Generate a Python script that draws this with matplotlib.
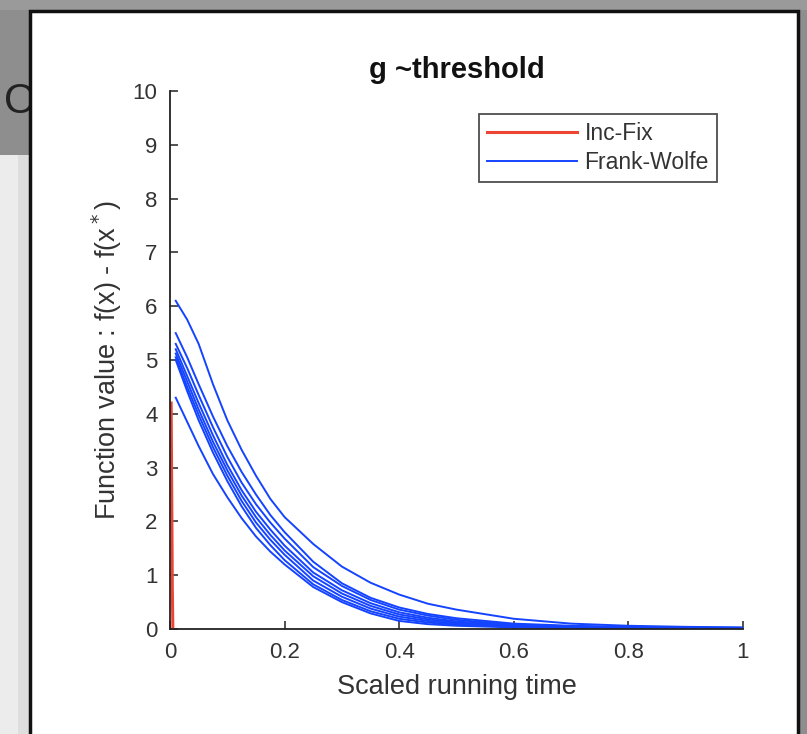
import matplotlib
matplotlib.use("Agg")
import matplotlib.pyplot as plt
from matplotlib.patches import Rectangle

plt.rcParams['font.family'] = ['Liberation Sans', 'DejaVu Sans']

# ---------------- data ----------------
time_x = [0.01, 0.03, 0.05, 0.075, 0.10, 0.125, 0.15, 0.175, 0.20, 0.25,
          0.30, 0.35, 0.40, 0.45, 0.50, 0.60, 0.70, 0.80, 0.90, 1.00]
fw_a = [6.10, 5.75, 5.30, 4.55, 3.88, 3.33, 2.85, 2.42, 2.08, 1.58,
        1.16, 0.86, 0.64, 0.47, 0.36, 0.19, 0.10, 0.06, 0.04, 0.03]
fw_b = [5.50, 5.05, 4.55, 3.95, 3.40, 2.92, 2.50, 2.12, 1.80, 1.25,
        0.85, 0.58, 0.40, 0.28, 0.20, 0.10, 0.06, 0.04, 0.03, 0.02]
fw_c1 = [5.30, 4.85, 4.35, 3.75, 3.20, 2.72, 2.32, 1.98, 1.68, 1.15,
         0.80, 0.54, 0.36, 0.25, 0.17, 0.08, 0.05, 0.03, 0.02, 0.02]
fw_c2 = [5.20, 4.70, 4.20, 3.60, 3.05, 2.58, 2.18, 1.85, 1.55, 1.05,
         0.72, 0.48, 0.31, 0.21, 0.14, 0.07, 0.04, 0.03, 0.02, 0.02]
fw_c3 = [5.12, 4.60, 4.08, 3.48, 2.95, 2.48, 2.08, 1.75, 1.46, 0.98,
         0.66, 0.43, 0.27, 0.18, 0.12, 0.06, 0.03, 0.02, 0.02, 0.01]
fw_c4 = [5.05, 4.50, 3.98, 3.38, 2.85, 2.38, 1.98, 1.66, 1.38, 0.90,
         0.60, 0.38, 0.23, 0.15, 0.10, 0.05, 0.03, 0.02, 0.01, 0.01]
fw_c5 = [5.00, 4.42, 3.88, 3.28, 2.75, 2.28, 1.88, 1.56, 1.28, 0.83,
         0.54, 0.33, 0.19, 0.12, 0.08, 0.04, 0.02, 0.02, 0.01, 0.01]
fw_c6 = [4.30, 3.85, 3.40, 2.88, 2.45, 2.06, 1.72, 1.44, 1.20, 0.78,
         0.50, 0.29, 0.15, 0.09, 0.06, 0.03, 0.02, 0.01, 0.01, 0.01]
fw_runs = [fw_a, fw_b, fw_c1, fw_c2, fw_c3, fw_c4, fw_c5, fw_c6]

incfix_x = [0.002, 0.003, 0.004, 0.005]
incfix_y = [4.20, 2.50, 0.80, 0.00]

xticks = [0, 0.2, 0.4, 0.6, 0.8, 1]
xticklabels = ['0', '0.2', '0.4', '0.6', '0.8', '1']
yticks = list(range(0, 11))

# ---------------- figure ----------------
W, H = 807, 734
fig = plt.figure(figsize=(W / 100, H / 100), dpi=100)
fig.patch.set_facecolor('#8e8e8e')

def px_rect(x0, y0, x1, y1, **kw):
    # pixel coords (origin top-left) -> figure fraction
    r = Rectangle((x0 / W, 1 - y1 / H), (x1 - x0) / W, (y1 - y0) / H,
                  transform=fig.transFigure, zorder=-10, **kw)
    fig.add_artist(r)

# screenshot surroundings
px_rect(0, 155, 30, 734, facecolor='#ececec', edgecolor='none')
px_rect(18, 155, 30, 734, facecolor='#dedede', edgecolor='none')
px_rect(0, 0, 807, 10, facecolor='#9a9a9a', edgecolor='none')
fig.text(4 / W, 1 - 102 / H, 'O', fontsize=30, color='#222222',
         ha='left', va='center', zorder=-10)
# white panel with black border
fr = Rectangle((30 / W, 1 - 740 / H), 768 / W, 729 / H, transform=fig.transFigure,
               facecolor='white', edgecolor='#111111', linewidth=2.5, zorder=-5)
fig.add_artist(fr)

ax = fig.add_axes([170 / W, 1 - 629 / H, (743 - 170) / W, (629 - 91) / H])
ax.set_facecolor('none')

ax.plot(incfix_x, incfix_y, color='#ee4433', linewidth=2.2, label='Inc-Fix')
for i, run in enumerate(fw_runs):
    ax.plot(time_x, run, color='#1444ff', linewidth=1.4,
            label='Frank-Wolfe' if i == 0 else None)

ax.set_xlim(0, 1)
ax.set_ylim(0, 10)
ax.set_xticks(xticks)
ax.set_xticklabels(xticklabels)
ax.set_yticks(yticks)

for s in ['top', 'right']:
    ax.spines[s].set_visible(False)
for s in ['left', 'bottom']:
    ax.spines[s].set_color('#222222')
    ax.spines[s].set_linewidth(1.3)

ax.tick_params(direction='in', length=6, width=1.1, color='#222222',
               labelsize=16, labelcolor='#333333', pad=9)

ax.set_xlabel('Scaled running time', fontsize=19.5, color='#333333', labelpad=8)
ax.set_ylabel(r'Function value : f(x) - f(x$^*$)', fontsize=19.5, color='#333333',
              labelpad=6)
ax.set_title('g ~threshold', fontsize=21, fontweight='bold', color='#111111', pad=9)

leg = ax.legend(loc='upper right', bbox_to_anchor=(717 / W, 1 - 114 / H),
                bbox_transform=fig.transFigure, fontsize=16.5,
                frameon=True, fancybox=False, handlelength=3.9,
                handletextpad=0.35, borderpad=0.35, labelspacing=0.25,
                borderaxespad=0)
leg.get_frame().set_edgecolor('#222222')
leg.get_frame().set_linewidth(1.3)
for t in leg.get_texts():
    t.set_color('#333333')

fig.savefig('out.png', dpi=100, facecolor=fig.get_facecolor())
